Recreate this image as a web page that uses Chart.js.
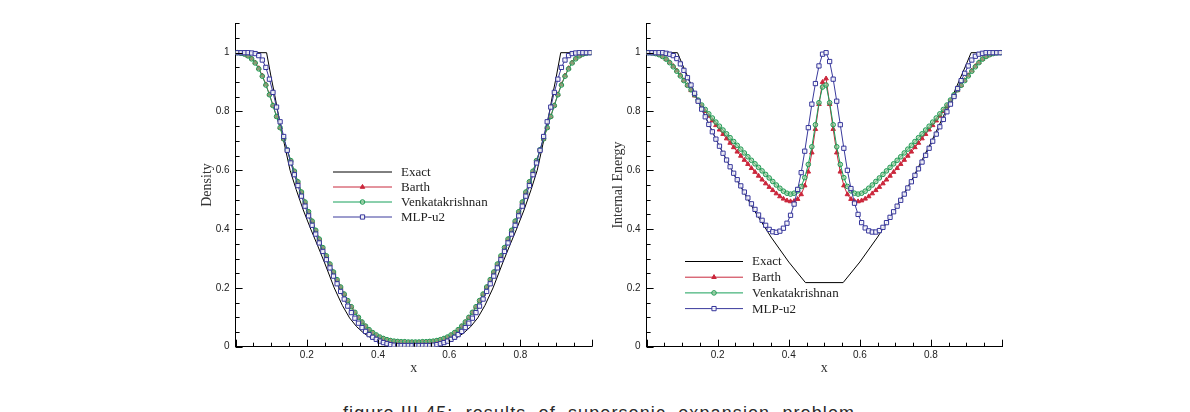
<!DOCTYPE html>
<html lang="en">
<head>
  <meta charset="UTF-8">
  <title>Supersonic expansion problem</title>
  <script src="https://cdn.jsdelivr.net/npm/chart.js"></script>
  <style>
    html, body { margin: 0; padding: 0; background: #fff; }
    body { width: 1190px; height: 412px; position: relative; overflow: hidden; }
    .plot { position: absolute; top: 0; width: 460px; height: 390px; }
    #densityWrap { left: 150px; }
    #energyWrap { left: 561px; }
    .caption {
      position: absolute; left: 343px; top: 404px;
      font: 18px "Liberation Sans", Arial, sans-serif; line-height: 18px;
      letter-spacing: 1.1px;
      white-space: pre; color: #2a2a2a;
    }
  </style>
</head>
<body>
  <div class="plot" id="densityWrap"><canvas id="densityChart" width="460" height="390"></canvas></div>
  <div class="plot" id="energyWrap"><canvas id="energyChart" width="460" height="390"></canvas></div>
  <div class="caption">figure III.45:  results  of  supersonic  expansion  problem</div>

  <script>
    // cell centres (100 cells)
    const xCells = [
      0.005,0.015,0.025,0.035,0.045,0.055,0.065,0.075,0.085,0.095,
      0.105,0.115,0.125,0.135,0.145,0.155,0.165,0.175,0.185,0.195,
      0.205,0.215,0.225,0.235,0.245,0.255,0.265,0.275,0.285,0.295,
      0.305,0.315,0.325,0.335,0.345,0.355,0.365,0.375,0.385,0.395,
      0.405,0.415,0.425,0.435,0.445,0.455,0.465,0.475,0.485,0.495,
      0.505,0.515,0.525,0.535,0.545,0.555,0.565,0.575,0.585,0.595,
      0.605,0.615,0.625,0.635,0.645,0.655,0.665,0.675,0.685,0.695,
      0.705,0.715,0.725,0.735,0.745,0.755,0.765,0.775,0.785,0.795,
      0.805,0.815,0.825,0.835,0.845,0.855,0.865,0.875,0.885,0.895,
      0.905,0.915,0.925,0.935,0.945,0.955,0.965,0.975,0.985,0.995
    ];

    const seriesNames = ['Exact', 'Barth', 'Venkatakrishnan', 'MLP-u2'];
    const xTickLabels = ['0.2', '0.4', '0.6', '0.8'];
    const yTickLabels = ['0', '0.2', '0.4', '0.6', '0.8', '1'];

    // ---- density ----
    const densityExactX = [0, 0.087, 0.10, 0.11, 0.125, 0.14, 0.153, 0.17, 0.19, 0.211, 0.23, 0.25, 0.277, 0.30, 0.32, 0.34, 0.36, 0.38, 0.40, 0.42, 0.44, 0.46, 0.50,
                           0.54, 0.56, 0.58, 0.60, 0.62, 0.64, 0.66, 0.68, 0.70, 0.723, 0.75, 0.77, 0.789, 0.81, 0.83, 0.847, 0.86, 0.875, 0.89, 0.90, 0.913, 1.0];
    const densityExactY = [1, 1, 0.915, 0.855, 0.757, 0.672, 0.60, 0.535, 0.465, 0.40, 0.345, 0.285, 0.20, 0.14, 0.098, 0.068, 0.046, 0.03, 0.019, 0.011, 0.007, 0.005, 0.005,
                           0.005, 0.007, 0.011, 0.019, 0.03, 0.046, 0.068, 0.098, 0.14, 0.20, 0.285, 0.345, 0.40, 0.465, 0.535, 0.60, 0.672, 0.757, 0.855, 0.915, 1, 1];
    const densityBarth = [
      1.000,0.998,0.995,0.989,0.980,0.966,0.947,0.922,0.892,0.858,
      0.821,0.783,0.745,0.707,0.669,0.632,0.596,0.560,0.525,0.491,
      0.458,0.426,0.395,0.365,0.336,0.308,0.280,0.253,0.227,0.202,
      0.178,0.156,0.135,0.116,0.099,0.083,0.069,0.057,0.047,0.038,
      0.031,0.026,0.022,0.019,0.017,0.016,0.015,0.015,0.014,0.014,
      0.014,0.014,0.015,0.015,0.016,0.017,0.019,0.022,0.026,0.031,
      0.038,0.047,0.057,0.069,0.083,0.099,0.116,0.135,0.156,0.178,
      0.202,0.227,0.253,0.280,0.308,0.336,0.365,0.395,0.426,0.458,
      0.491,0.525,0.560,0.596,0.632,0.669,0.707,0.745,0.783,0.821,
      0.858,0.892,0.922,0.947,0.966,0.980,0.989,0.995,0.998,1.000
    ];
    const densityVenkat = [
      1.000,0.998,0.995,0.989,0.979,0.965,0.945,0.920,0.890,0.857,
      0.820,0.783,0.745,0.707,0.670,0.633,0.597,0.561,0.526,0.492,
      0.459,0.427,0.396,0.366,0.337,0.309,0.281,0.254,0.228,0.203,
      0.179,0.157,0.136,0.117,0.100,0.084,0.070,0.058,0.048,0.040,
      0.033,0.028,0.024,0.021,0.019,0.018,0.017,0.017,0.016,0.016,
      0.016,0.016,0.017,0.017,0.018,0.019,0.021,0.024,0.028,0.033,
      0.040,0.048,0.058,0.070,0.084,0.100,0.117,0.136,0.157,0.179,
      0.203,0.228,0.254,0.281,0.309,0.337,0.366,0.396,0.427,0.459,
      0.492,0.526,0.561,0.597,0.633,0.670,0.707,0.745,0.783,0.820,
      0.857,0.890,0.920,0.945,0.965,0.979,0.989,0.995,0.998,1.000
    ];
    const densityMLP = [
      1.000,1.000,1.000,1.000,0.999,0.997,0.990,0.975,0.950,0.910,
      0.865,0.815,0.765,0.715,0.668,0.625,0.585,0.548,0.512,0.478,
      0.445,0.413,0.383,0.353,0.324,0.296,0.268,0.240,0.214,0.188,
      0.162,0.138,0.116,0.097,0.080,0.065,0.052,0.041,0.032,0.025,
      0.019,0.014,0.010,0.007,0.005,0.004,0.004,0.004,0.004,0.004,
      0.004,0.004,0.004,0.004,0.004,0.005,0.007,0.010,0.014,0.019,
      0.025,0.032,0.041,0.052,0.065,0.080,0.097,0.116,0.138,0.162,
      0.188,0.214,0.240,0.268,0.296,0.324,0.353,0.383,0.413,0.445,
      0.478,0.512,0.548,0.585,0.625,0.668,0.715,0.765,0.815,0.865,
      0.910,0.950,0.975,0.990,0.997,0.999,1.000,1.000,1.000,1.000
    ];

    // ---- internal energy ----
    const energyExactX = [0, 0.087, 0.10, 0.15, 0.20, 0.25, 0.30, 0.35, 0.40, 0.447, 0.553, 0.60, 0.65, 0.70, 0.75, 0.80, 0.85, 0.90, 0.913, 1.0];
    const energyExactY = [1, 1, 0.962, 0.822, 0.694, 0.576, 0.469, 0.373, 0.288, 0.218, 0.218, 0.288, 0.373, 0.469, 0.576, 0.694, 0.822, 0.962, 1, 1];
    const energyBarth = [
      1.000,0.999,0.997,0.993,0.987,0.978,0.967,0.954,0.939,0.923,
      0.906,0.889,0.872,0.854,0.836,0.818,0.801,0.785,0.769,0.753,
      0.738,0.723,0.708,0.693,0.678,0.663,0.649,0.635,0.621,0.607,
      0.594,0.581,0.568,0.555,0.543,0.532,0.521,0.511,0.503,0.497,
      0.494,0.495,0.502,0.518,0.548,0.595,0.660,0.740,0.825,0.900,
      0.912,0.825,0.740,0.660,0.595,0.548,0.518,0.502,0.495,0.494,
      0.497,0.503,0.511,0.521,0.532,0.543,0.555,0.568,0.581,0.594,
      0.607,0.621,0.635,0.649,0.663,0.678,0.693,0.708,0.723,0.738,
      0.753,0.769,0.785,0.801,0.818,0.836,0.854,0.872,0.889,0.906,
      0.923,0.939,0.954,0.967,0.978,0.987,0.993,0.997,0.999,1.000
    ];
    const energyVenkat = [
      1.000,0.999,0.997,0.993,0.987,0.978,0.966,0.952,0.937,0.921,
      0.905,0.889,0.874,0.857,0.839,0.822,0.807,0.792,0.778,0.764,
      0.750,0.737,0.724,0.711,0.698,0.685,0.672,0.659,0.646,0.634,
      0.622,0.610,0.598,0.586,0.574,0.562,0.550,0.539,0.529,0.522,
      0.519,0.522,0.530,0.545,0.575,0.620,0.680,0.755,0.830,0.883,
      0.890,0.830,0.755,0.680,0.620,0.575,0.545,0.530,0.522,0.519,
      0.522,0.529,0.539,0.550,0.562,0.574,0.586,0.598,0.610,0.622,
      0.634,0.646,0.659,0.672,0.685,0.698,0.711,0.724,0.737,0.750,
      0.764,0.778,0.792,0.807,0.822,0.839,0.857,0.874,0.889,0.905,
      0.921,0.937,0.952,0.966,0.978,0.987,0.993,0.997,0.999,1.000
    ];
    const energyMLP = [
      1.000,1.000,1.000,1.000,1.000,0.998,0.995,0.990,0.980,0.962,
      0.940,0.915,0.890,0.862,0.835,0.808,0.782,0.756,0.731,0.706,
      0.682,0.658,0.635,0.612,0.590,0.568,0.547,0.526,0.506,0.486,
      0.467,0.448,0.430,0.413,0.399,0.391,0.389,0.393,0.403,0.420,
      0.447,0.485,0.535,0.592,0.665,0.745,0.825,0.895,0.955,0.995,
      1.000,0.970,0.910,0.835,0.755,0.675,0.600,0.538,0.488,0.450,
      0.422,0.404,0.394,0.390,0.390,0.395,0.406,0.422,0.440,0.459,
      0.478,0.498,0.519,0.540,0.561,0.583,0.605,0.628,0.651,0.675,
      0.699,0.723,0.748,0.773,0.799,0.825,0.851,0.878,0.905,0.930,
      0.955,0.975,0.988,0.995,0.998,1.000,1.000,1.000,1.000,1.000
    ];

    const pts = (xs, ys) => xs.map((x, i) => ({ x: x, y: ys[i] }));

    function tickText(value, allowed) {
      const s = String(Math.round(value * 100) / 100);
      return allowed.includes(s) ? s : '';
    }
    const isMajor = v => Math.abs(v / 0.2 - Math.round(v / 0.2)) < 1e-6;

    // tick marks pointing into the plot, like the original figure
    const insideTicks = {
      id: 'insideTicks',
      afterDraw(chart) {
        const { ctx, chartArea: a, scales: { x, y } } = chart;
        ctx.save();
        ctx.strokeStyle = '#000';
        ctx.lineWidth = 1;
        ctx.beginPath();
        x.ticks.forEach(t => {
          const px = Math.round(x.getPixelForValue(t.value)) + 0.5;
          const len = isMajor(t.value) ? 7 : 4;
          ctx.moveTo(px, a.bottom);
          ctx.lineTo(px, a.bottom - len);
        });
        y.ticks.forEach(t => {
          const py = Math.round(y.getPixelForValue(t.value)) + 0.5;
          const len = isMajor(t.value) ? 7 : 4;
          ctx.moveTo(a.left, py);
          ctx.lineTo(a.left + len, py);
        });
        ctx.stroke();
        ctx.restore();
      }
    };

    function drawMarker(ctx, ds, cx, cy) {
      const r = ds.pointRadius;
      if (!r) return;
      ctx.fillStyle = ds.pointBackgroundColor;
      ctx.strokeStyle = ds.pointBorderColor;
      ctx.lineWidth = 1;
      ctx.beginPath();
      if (ds.pointStyle === 'triangle') {
        ctx.moveTo(cx, cy - r);
        ctx.lineTo(cx + r * 0.87, cy + r * 0.5);
        ctx.lineTo(cx - r * 0.87, cy + r * 0.5);
        ctx.closePath();
      } else if (ds.pointStyle === 'rect') {
        const s = r * Math.SQRT1_2;
        ctx.rect(cx - s, cy - s, 2 * s, 2 * s);
      } else {
        ctx.arc(cx, cy, r, 0, Math.PI * 2);
      }
      ctx.fill();
      ctx.stroke();
    }

    // legend placed inside the plot area
    const insideLegend = {
      id: 'insideLegend',
      afterDraw(chart, args, opts) {
        const ctx = chart.ctx;
        ctx.save();
        ctx.font = '13px "Liberation Serif", "Times New Roman", serif';
        ctx.textBaseline = 'middle';
        chart.data.datasets.forEach((ds, i) => {
          const y = opts.y + i * opts.gap;
          ctx.strokeStyle = ds.borderColor;
          ctx.lineWidth = 1;
          ctx.beginPath();
          ctx.moveTo(opts.x, y + 0.5);
          ctx.lineTo(opts.x + opts.len, y + 0.5);
          ctx.stroke();
          drawMarker(ctx, ds, opts.x + opts.len / 2, y + 0.5);
          ctx.fillStyle = '#222';
          ctx.fillText(ds.label, opts.x + opts.len + 9, y + 1);
        });
        ctx.restore();
      }
    };

    function makeDatasets(exactX, exactY, barth, venkat, mlp) {
      return [
        { label: seriesNames[0], data: pts(exactX, exactY), borderColor: '#000', borderWidth: 1,
          pointRadius: 0, order: 4 },
        { label: seriesNames[1], data: pts(xCells, barth), borderColor: '#c8283c', borderWidth: 1,
          pointStyle: 'triangle', pointRadius: 2.6, pointBackgroundColor: '#d0243a',
          pointBorderColor: '#c8283c', pointBorderWidth: 1, order: 3 },
        { label: seriesNames[2], data: pts(xCells, venkat), borderColor: '#17a05a', borderWidth: 1,
          pointStyle: 'circle', pointRadius: 2.3, pointBackgroundColor: 'rgba(150,200,150,0.6)',
          pointBorderColor: '#1f9a55', pointBorderWidth: 1, order: 2 },
        { label: seriesNames[3], data: pts(xCells, mlp), borderColor: '#3a3a9c', borderWidth: 1,
          pointStyle: 'rect', pointRadius: 3, pointBackgroundColor: 'rgba(255,255,255,0.85)',
          pointBorderColor: '#34349a', pointBorderWidth: 1, order: 1 }
      ];
    }

    function makeChart(canvasId, yTitle, datasets, padRight, legendPos) {
      return new Chart(document.getElementById(canvasId), {
        type: 'line',
        data: { datasets: datasets },
        options: {
          responsive: false,
          animation: false,
          events: [],
          elements: { line: { tension: 0 } },
          layout: { padding: { left: 0, top: 23.3, right: padRight, bottom: 0 } },
          plugins: {
            legend: { display: false },
            tooltip: { enabled: false },
            insideLegend: legendPos
          },
          scales: {
            x: {
              type: 'linear', min: 0, max: 1,
              afterFit(s) { s.height = 43.3; },
              grid: { display: false, drawTicks: false, tickLength: 0 },
              border: { display: true, color: '#000', width: 1 },
              ticks: {
                stepSize: 0.05, autoSkip: false, maxRotation: 0, padding: 3,
                color: '#222', font: { family: '"Liberation Sans", Arial, sans-serif', size: 10 },
                callback: v => tickText(v, xTickLabels)
              },
              title: {
                display: true, text: 'x', color: '#333',
                font: { family: '"Liberation Serif", "Times New Roman", serif', size: 14 },
                padding: { top: 0, bottom: 13.6 }
              }
            },
            y: {
              type: 'linear', min: 0, max: 1.1,
              afterFit(s) { s.width = 85.6; },
              grid: { display: false, drawTicks: false, tickLength: 0 },
              border: { display: true, color: '#000', width: 1 },
              ticks: {
                stepSize: 0.05, autoSkip: false, padding: 6,
                color: '#222', font: { family: '"Liberation Sans", Arial, sans-serif', size: 10 },
                callback: v => tickText(v, yTickLabels)
              },
              title: {
                display: true, text: yTitle, color: '#333',
                font: { family: '"Liberation Serif", "Times New Roman", serif', size: 14 },
                padding: { top: 48.6, bottom: 0 }
              }
            }
          }
        },
        plugins: [insideTicks, insideLegend]
      });
    }

    makeChart('densityChart', 'Density',
      makeDatasets(densityExactX, densityExactY, densityBarth, densityVenkat, densityMLP),
      18.3, { x: 183, y: 171.5, gap: 15, len: 59 });

    makeChart('energyChart', 'Internal Energy',
      makeDatasets(energyExactX, energyExactY, energyBarth, energyVenkat, energyMLP),
      19, { x: 124, y: 261, gap: 15.7, len: 58 });
  </script>
</body>
</html>
